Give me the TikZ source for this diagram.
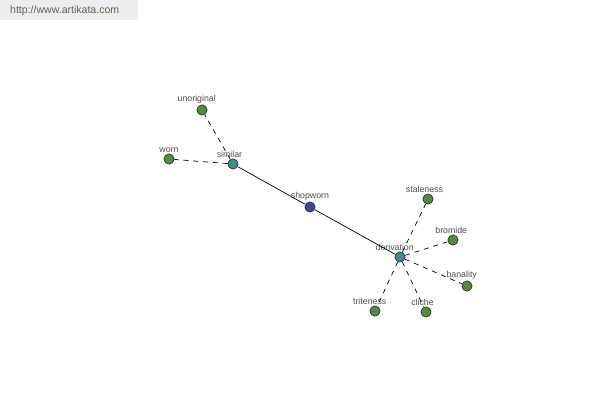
\documentclass[tikz,border=0pt]{standalone}
\usepackage{fontspec}
\setmainfont{Liberation Sans}
\usepackage{xcolor}
\usepackage{tikz}
\usetikzlibrary{positioning}
\definecolor{leafgreen}{HTML}{4E8E3E}
\definecolor{hubteal}{HTML}{3F8C8C}
\definecolor{rootblue}{HTML}{3A4899}
\definecolor{lblgray}{HTML}{505050}
\definecolor{sitegreen}{HTML}{4F6A4F}
\tikzset{
    word/.style={
        circle, draw=black!80, line width=0.4pt,
        minimum size=5.8pt, inner sep=0pt,
    },
    leaf/.style={word, fill=leafgreen},
    hub/.style={word, fill=hubteal},
    root/.style={word, fill=rootblue},
    lbl/.style={
        font=\fontsize{5}{6}\selectfont, text=lblgray,
        inner sep=0.5pt,
    },
    solidlink/.style={line width=0.4pt, draw=black},
    dashlink/.style={line width=0.4pt, draw=black, dash pattern=on 2.8pt off 2.8pt},
}

\begin{document}
\begin{tikzpicture}[x=0.02cm, y=-0.02cm]

    \useasboundingbox (0,0) rectangle (600,400);
    \fill[white] (0,0) rectangle (600,400);

    % watermark
    \fill[black!7] (0,0) rectangle (138,20);
    \node[anchor=west, font=\fontsize{6}{7}\selectfont, text=sitegreen] (site) at (4,11) {http://www.artikata.com};

    % word nodes
    \node[root, label={[lbl]above:shopworn}] (shopworn) at (310,207) {};
    \node[hub, label={[lbl, xshift=-2pt]above:similar}] (similar) at (233,164) {};
    \node[hub, label={[lbl, xshift=-3pt]above:derivation}] (derivation) at (400,257) {};

    \node[leaf, label={[lbl, xshift=-3pt]above:unoriginal}] (unoriginal) at (202,110) {};
    \node[leaf, label={[lbl]above:worn}] (worn) at (169,159) {};

    \node[leaf, label={[lbl, xshift=-2pt]above:staleness}] (staleness) at (428,199) {};
    \node[leaf, label={[lbl, xshift=-1pt]above:bromide}] (bromide) at (453,240) {};
    \node[leaf, label={[lbl, xshift=-3pt]above:banality}] (banality) at (467,286) {};
    \node[leaf, label={[lbl, xshift=-3pt]above:triteness}] (triteness) at (375,311) {};
    \node[leaf, label={[lbl, xshift=-2pt]above:cliche}] (cliche) at (426,312) {};

    % links
    \draw[solidlink] (shopworn) -- (similar);
    \draw[solidlink] (shopworn) -- (derivation);

    \draw[dashlink] (similar) -- (unoriginal);
    \draw[dashlink] (similar) -- (worn);

    \draw[dashlink] (derivation) -- (staleness);
    \draw[dashlink] (derivation) -- (bromide);
    \draw[dashlink] (derivation) -- (banality);
    \draw[dashlink] (derivation) -- (triteness);
    \draw[dashlink] (derivation) -- (cliche);

\end{tikzpicture}
\end{document}
